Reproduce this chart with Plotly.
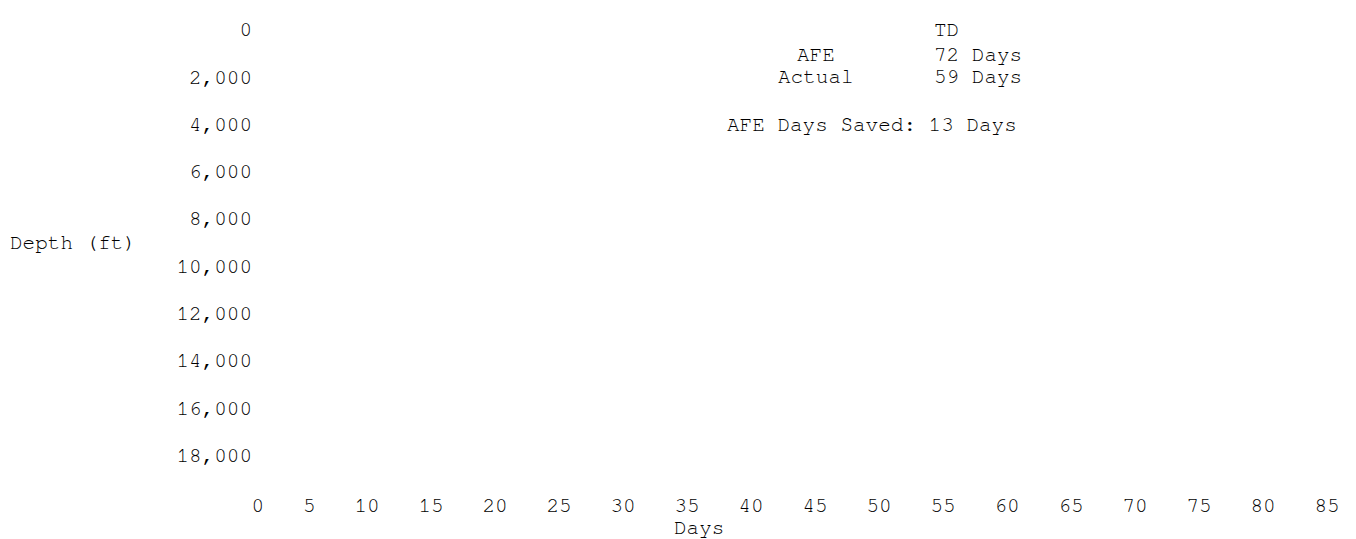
import plotly.graph_objects as go

# ---- data / labels ----
x_tick_vals = [0, 5, 10, 15, 20, 25, 30, 35, 40, 45, 50, 55, 60, 65, 70, 75, 80, 85]
x_tick_pad = [3, 1, 0, 0, 0, 0, 0, 0, 0, 0, 0, 0, 0, 0, 0, 0, 0, 0]  # leading blanks
y_tick_vals = [0, 2000, 4000, 6000, 8000, 10000, 12000, 14000, 16000, 18000]
summary_header = "TD"
summary_rows = ["AFE", "Actual"]
summary_days = [72, 59]
days_saved = 13
x_title = "Days"
y_title = "Depth (ft)"

W, H = 1356, 539
L, R, T, B = 231, 37, 11, 57
FONT = dict(family="Nimbus Mono PS, Nimbus Mono L, FreeMono, Courier, Courier New, monospace",
            size=21, color="#000000")


def px(xpix):
    return (xpix - L) / (W - L - R)


def py(ypix):
    return 1 - (ypix - T) / (H - T - B)


x_tick_text = ["\u00a0" * p + str(v) for v, p in zip(x_tick_vals, x_tick_pad)]

fig = go.Figure()
fig.add_trace(go.Scatter(x=[], y=[], mode="lines", showlegend=False))

fig.update_layout(
    width=W, height=H,
    margin=dict(l=L, r=R, t=T, b=B),
    paper_bgcolor="white", plot_bgcolor="white",
    font=FONT,
    showlegend=False,
    xaxis=dict(range=[0, 85], tickvals=x_tick_vals, ticktext=x_tick_text, showgrid=False,
               zeroline=False, showline=False, ticks="", tickfont=FONT),
    yaxis=dict(range=[19500, 0], tickvals=y_tick_vals, tickformat=",d", showgrid=False,
               zeroline=False, showline=False, ticks="", tickfont=FONT,
               ticklabelstandoff=-14),
)

ann = []
ann.append(dict(text=summary_header, x=px(924), y=py(12), xanchor="left", yanchor="middle"))
row_y = [37, 60]
for lab, d, yy in zip(summary_rows, summary_days, row_y):
    ann.append(dict(text=lab, x=px(808), y=py(yy), xanchor="center", yanchor="middle"))
    ann.append(dict(text=f"{d} Days", x=px(924), y=py(yy), xanchor="left", yanchor="middle"))
ann.append(dict(text=f"AFE Days Saved: {days_saved} Days", x=px(717), y=py(109),
                xanchor="left", yanchor="middle"))
ann.append(dict(text=y_title, x=px(0), y=py(229), xanchor="left", yanchor="middle"))
ann.append(dict(text=x_title, x=px(691), y=py(520), xanchor="center", yanchor="middle"))
for a in ann:
    a.update(xref="paper", yref="paper", showarrow=False, font=FONT)
fig.update_layout(annotations=ann)

fig.write_html("out.html")
